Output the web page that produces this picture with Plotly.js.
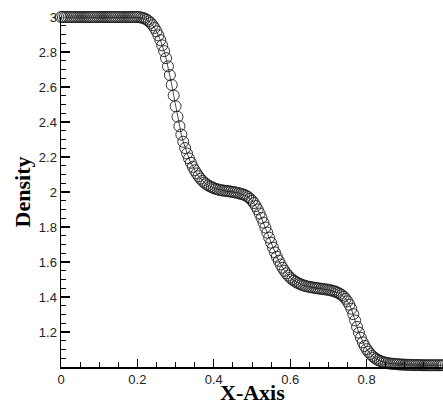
<!DOCTYPE html>
<html>
<head>
<meta charset="utf-8">
<script src="https://cdn.plot.ly/plotly-3.0.1.min.js"></script>
<style>
  html, body { margin: 0; padding: 0; background: #fff; }
  #chart { width: 443px; height: 408px; }
</style>
</head>
<body>
<div id="chart"></div>
<script>
// Grid: x from 0 to 1 with spacing 0.005 (201 points)
const xStart = 0;
const xStep = 0.005;

// Density values, one per grid point
const density = [
  3.000,3.000,3.000,3.000,3.000,3.000,3.000,3.000,3.000,3.000,
  3.000,3.000,3.000,3.000,3.000,3.000,3.000,3.000,3.000,3.000,
  3.000,3.000,3.000,3.000,3.000,3.000,3.000,3.000,3.000,3.000,
  3.000,3.000,3.000,3.000,3.000,3.000,3.000,3.000,3.000,3.000,
  3.000,2.999,2.997,2.994,2.990,2.984,2.976,2.966,2.953,2.937,
  2.918,2.895,2.868,2.838,2.805,2.765,2.718,2.668,2.612,2.552,
  2.490,2.430,2.376,2.328,2.287,2.251,2.220,2.192,2.167,2.144,
  2.124,2.106,2.090,2.076,2.064,2.054,2.045,2.038,2.032,2.027,
  2.022,2.018,2.015,2.012,2.010,2.008,2.007,2.005,2.004,2.002,
  2.000,1.998,1.996,1.993,1.990,1.987,1.984,1.978,1.971,1.962,
  1.951,1.937,1.920,1.900,1.877,1.852,1.825,1.797,1.768,1.739,
  1.710,1.682,1.655,1.630,1.607,1.586,1.567,1.550,1.535,1.522,
  1.511,1.501,1.493,1.486,1.480,1.475,1.470,1.466,1.463,1.460,
  1.458,1.456,1.454,1.452,1.450,1.449,1.447,1.446,1.444,1.443,
  1.441,1.439,1.436,1.433,1.429,1.424,1.418,1.411,1.402,1.390,
  1.375,1.356,1.333,1.302,1.266,1.229,1.196,1.167,1.141,1.120,
  1.102,1.087,1.074,1.063,1.054,1.046,1.040,1.035,1.031,1.027,
  1.024,1.022,1.020,1.019,1.018,1.017,1.016,1.015,1.014,1.014,
  1.013,1.013,1.012,1.012,1.012,1.011,1.011,1.011,1.011,1.010,
  1.010,1.010,1.010,1.010,1.010,1.010,1.010,1.010,1.010,1.010,
  1.010
];

const xTickVals = [0, 0.2, 0.4, 0.6, 0.8];
const yTickVals = [1.2, 1.4, 1.6, 1.8, 2, 2.2, 2.4, 2.6, 2.8, 3];
const xTitle = 'X-Axis';
const yTitle = 'Density';

const trace = {
  type: 'scatter',
  mode: 'lines+markers',
  x0: xStart,
  dx: xStep,
  y: density,
  cliponaxis: false,
  line: { color: '#000', width: 0.7 },
  marker: {
    symbol: 'circle-open',
    size: 11,
    color: '#1e1e1e',
    line: { width: 0.9 }
  },
  hoverinfo: 'skip'
};

const tickFont = { family: 'Liberation Sans, Arial, sans-serif', size: 13, color: '#222' };
const titleFont = { family: 'Liberation Serif, Times New Roman, serif', size: 22, color: '#000', weight: 'bold' };

const layout = {
  width: 443,
  height: 408,
  margin: { l: 61, r: 0, t: 17, b: 41 },
  paper_bgcolor: '#fff',
  plot_bgcolor: '#fff',
  showlegend: false,
  xaxis: {
    range: [0, 1],
    showgrid: false,
    zeroline: false,
    showline: true,
    linecolor: '#000',
    linewidth: 1.5,
    ticks: 'inside',
    ticklen: 8,
    tickwidth: 1.3,
    tickcolor: '#000',
    tickvals: xTickVals,
    tickfont: tickFont,
    minor: { ticks: 'inside', ticklen: 5, tickwidth: 1, tickcolor: '#000', dtick: 0.05, tick0: 0 }
  },
  yaxis: {
    range: [1, 3],
    showgrid: false,
    zeroline: false,
    showline: true,
    linecolor: '#000',
    linewidth: 1.5,
    ticks: 'inside',
    ticklen: 9,
    tickwidth: 1.3,
    tickcolor: '#000',
    tickvals: yTickVals,
    tickfont: tickFont,
    minor: { ticks: 'inside', ticklen: 5, tickwidth: 1, tickcolor: '#000', dtick: 0.05, tick0: 1 },
    title: { text: yTitle, font: titleFont, standoff: 2 }
  },
  annotations: [{
    text: xTitle,
    xref: 'paper', yref: 'paper',
    x: 0.5, y: 0,
    xanchor: 'center', yanchor: 'middle',
    yshift: -25,
    showarrow: false,
    font: titleFont
  }]
};

Plotly.newPlot('chart', [trace], layout, { displayModeBar: false, staticPlot: true });
</script>
</body>
</html>
